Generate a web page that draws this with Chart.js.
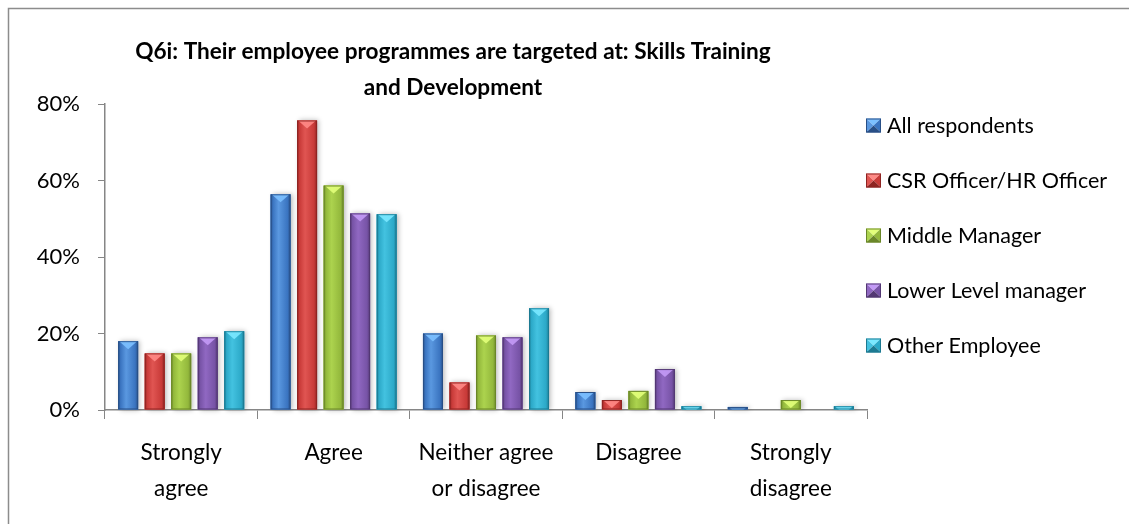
<!DOCTYPE html>
<html>
<head>
<meta charset="utf-8">
<title>Q6i Skills Training and Development</title>
<script src="https://cdn.jsdelivr.net/npm/chart.js@4.4.1/dist/chart.umd.min.js"></script>
<style>
  html, body { margin: 0; padding: 0; background: #ffffff; }
  #wrap { width: 1129px; height: 524px; }
</style>
</head>
<body>
<div id="wrap"><canvas id="q6i-chart" width="1129" height="524"></canvas></div>
<script>
// ============================================
// Q6i - employee programmes: Skills Training and Development
// ============================================

const titleLines = ['Q6i: Their employee programmes are targeted at: Skills Training', 'and Development'];

const categories = [
  ['Strongly', 'agree'],
  ['Agree'],
  ['Neither agree', 'or disagree'],
  ['Disagree'],
  ['Strongly', 'disagree']
];

const seriesNames = ['All respondents', 'CSR Officer/HR Officer', 'Middle Manager', 'Lower Level manager', 'Other Employee'];

// percent of respondents, per answer
const allRespondents = [18.0, 56.4, 20.0, 4.7, 0.8];
const csrHrOfficer   = [14.8, 75.7, 7.2, 2.6, 0];
const middleManager  = [14.8, 58.7, 19.5, 5.0, 2.6];
const lowerManager   = [19.0, 51.4, 19.0, 10.7, 0];
const otherEmployee  = [20.6, 51.2, 26.6, 1.0, 1.0];

const yTicks = [0, 20, 40, 60, 80];

// base / light / dark shades for each series (bevelled bar look)
const palette = [
  { base: '#3a74c0', light: '#5a98e0', dark: '#284f86', top: '#7cc0ff' },
  { base: '#c83a38', light: '#e05552', dark: '#8e2422', top: '#ff8a86' },
  { base: '#93b83c', light: '#acd34e', dark: '#6a8729', top: '#e2ff7a' },
  { base: '#7753a6', light: '#9068c2', dark: '#533873', top: '#c39af6' },
  { base: '#2ca9c8', light: '#43c2e0', dark: '#1c7a92', top: '#7ae8ff' }
];

const FONT = 'Lato, "Open Sans", sans-serif';
const AXIS_GREY = '#868686';

// ============================================
// Plugins
// ============================================

// white page, grey frame, title block
const frameAndTitle = {
  id: 'frameAndTitle',
  beforeDraw(chart) {
    const ctx = chart.ctx;
    ctx.save();
    ctx.fillStyle = '#ffffff';
    ctx.fillRect(0, 0, chart.width, chart.height);
    ctx.strokeStyle = '#8c8c8c';
    ctx.lineWidth = 1.5;
    ctx.beginPath();
    ctx.moveTo(8.5, chart.height + 2);
    ctx.lineTo(8.5, 8.5);
    ctx.lineTo(chart.width + 2, 8.5);
    ctx.stroke();
    ctx.restore();
  },
  afterDraw(chart) {
    const ctx = chart.ctx;
    ctx.save();
    ctx.fillStyle = '#000000';
    ctx.font = 'bold 22.6px ' + FONT;
    ctx.textAlign = 'center';
    ctx.textBaseline = 'middle';
    titleLines.forEach((line, i) => ctx.fillText(line, 453, 52 + i * 36));
    ctx.restore();
  }
};

function bevelRect(ctx, left, top, w, h, shade) {
  const grad = ctx.createLinearGradient(left, 0, left + w, 0);
  grad.addColorStop(0, shade.dark);
  grad.addColorStop(0.12, shade.base);
  grad.addColorStop(0.4, shade.light);
  grad.addColorStop(0.85, shade.base);
  grad.addColorStop(1, shade.dark);
  ctx.fillStyle = grad;
  ctx.fillRect(left, top, w, h);
}

// repaint each bar with the bevel, shadow and pointed top highlight
const bevelBars = {
  id: 'bevelBars',
  afterDatasetsDraw(chart) {
    const ctx = chart.ctx;
    chart.data.datasets.forEach((ds, di) => {
      const shade = palette[di];
      chart.getDatasetMeta(di).data.forEach(bar => {
        const w = bar.width;
        const left = bar.x - w / 2;
        const top = Math.min(bar.y, bar.base);
        const h = Math.abs(bar.base - bar.y);
        if (h < 0.5) return;
        ctx.save();
        // soft drop shadow
        ctx.shadowColor = 'rgba(0,0,0,0.28)';
        ctx.shadowBlur = 5;
        ctx.shadowOffsetX = 2;
        ctx.shadowOffsetY = 0;
        ctx.fillStyle = shade.base;
        ctx.fillRect(left, top, w, h);
        ctx.restore();

        ctx.save();
        ctx.beginPath();
        ctx.rect(left, top, w, h);
        ctx.clip();
        bevelRect(ctx, left, top, w, h, shade);
        // top facet
        const dip = Math.min(8, w * 0.4);
        ctx.fillStyle = shade.top;
        ctx.globalAlpha = 0.9;
        ctx.beginPath();
        ctx.moveTo(left + 1, top);
        ctx.lineTo(left + w - 1, top);
        ctx.lineTo(bar.x, top + dip);
        ctx.closePath();
        ctx.fill();
        ctx.globalAlpha = 1;
        ctx.strokeStyle = shade.dark;
        ctx.lineWidth = 1;
        ctx.strokeRect(left + 0.5, top + 0.5, w - 1, h - 1);
        ctx.restore();
      });
    });
  }
};

// legend column on the right
const sideLegend = {
  id: 'sideLegend',
  afterDraw(chart) {
    const ctx = chart.ctx;
    ctx.save();
    ctx.font = '21.5px ' + FONT;
    ctx.textBaseline = 'middle';
    ctx.textAlign = 'left';
    chart.data.datasets.forEach((ds, i) => {
      const shade = palette[i];
      const cy = 125.5 + i * 55;
      const x0 = 866, y0 = cy - 7, s = 15, h = 14;
      // pyramid marker: four facets
      const cx = x0 + s / 2;
      const facets = [
        [[x0, y0], [x0 + s, y0], [cx, cy], shade.top],
        [[x0 + s, y0], [x0 + s, y0 + h], [cx, cy], shade.base],
        [[x0, y0 + h], [x0 + s, y0 + h], [cx, cy], shade.dark],
        [[x0, y0], [x0, y0 + h], [cx, cy], shade.light]
      ];
      facets.forEach(f => {
        ctx.fillStyle = f[3];
        ctx.beginPath();
        ctx.moveTo(f[0][0], f[0][1]);
        ctx.lineTo(f[1][0], f[1][1]);
        ctx.lineTo(f[2][0], f[2][1]);
        ctx.closePath();
        ctx.fill();
      });
      ctx.strokeStyle = shade.dark;
      ctx.lineWidth = 1;
      ctx.strokeRect(x0 + 0.5, y0 + 0.5, s - 1, h - 1);
      ctx.fillStyle = '#000000';
      ctx.fillText(ds.label, 887, cy + 1);
    });
    ctx.restore();
  }
};

// ============================================
// Chart
// ============================================

const seriesValues = [allRespondents, csrHrOfficer, middleManager, lowerManager, otherEmployee];

const datasets = seriesNames.map((name, i) => ({
  label: name,
  data: seriesValues[i],
  backgroundColor: palette[i].base,
  borderWidth: 0,
  categoryPercentage: 0.87,
  barPercentage: 0.755
}));

new Chart(document.getElementById('q6i-chart'), {
  type: 'bar',
  data: { labels: categories, datasets },
  plugins: [frameAndTitle, bevelBars, sideLegend],
  options: {
    responsive: false,
    animation: false,
    layout: { padding: { left: 0, top: 104, right: 262, bottom: 0 } },
    plugins: {
      legend: { display: false },
      title: { display: false },
      tooltip: { enabled: false }
    },
    scales: {
      x: {
        grid: {
          display: true,
          drawOnChartArea: false,
          drawTicks: true,
          tickLength: 9,
          color: AXIS_GREY,
          offset: true
        },
        border: { display: true, color: AXIS_GREY, width: 1.5 },
        ticks: {
          color: '#000000',
          padding: 16,
          maxRotation: 0,
          autoSkip: false,
          font: { family: FONT, size: 22.5, lineHeight: 1.6 }
        },
        afterFit(scale) { scale.height = 114; }
      },
      y: {
        min: 0,
        max: 80,
        afterBuildTicks(scale) { scale.ticks = yTicks.map(v => ({ value: v })); },
        grid: {
          display: true,
          drawOnChartArea: false,
          drawTicks: true,
          tickLength: 7,
          color: AXIS_GREY
        },
        border: { display: true, color: AXIS_GREY, width: 1.5 },
        ticks: {
          color: '#000000',
          padding: 18,
          font: { family: FONT, size: 22 },
          callback: v => v + '%'
        },
        afterFit(scale) { scale.width = 105; }
      }
    }
  }
});
</script>
</body>
</html>
